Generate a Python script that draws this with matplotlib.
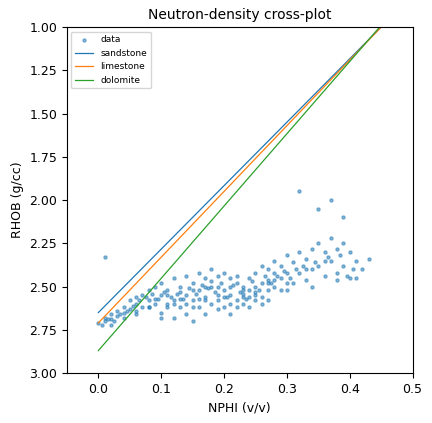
import matplotlib
matplotlib.use("Agg")
import matplotlib.pyplot as plt

# scatter points read off the cross-plot (approximate)
nphi = [0.00, 0.01, 0.01, 0.02, 0.02, 0.03, 0.03, 0.04, 0.04, 0.05, 0.05, 0.06, 0.06, 0.07, 0.07,
        0.08, 0.08, 0.09, 0.09, 0.10, 0.10, 0.10, 0.11, 0.11, 0.12, 0.12, 0.12, 0.13, 0.13, 0.14,
        0.14, 0.14, 0.15, 0.15, 0.15, 0.16, 0.16, 0.16, 0.17, 0.17, 0.17, 0.18, 0.18, 0.18, 0.19,
        0.19, 0.19, 0.20, 0.20, 0.20, 0.21, 0.21, 0.21, 0.22, 0.22, 0.22, 0.23, 0.23, 0.23, 0.24,
        0.24, 0.24, 0.25, 0.25, 0.25, 0.26, 0.26, 0.26, 0.27, 0.27, 0.27, 0.28, 0.28, 0.28, 0.29,
        0.29, 0.30, 0.30, 0.31, 0.31, 0.32, 0.32, 0.33, 0.33, 0.34, 0.34, 0.35, 0.35, 0.36, 0.36,
        0.37, 0.37, 0.38, 0.38, 0.39, 0.39, 0.40, 0.40, 0.41, 0.42, 0.01, 0.32, 0.37, 0.35, 0.39,
        0.09, 0.11, 0.13, 0.15, 0.17, 0.19, 0.21, 0.23, 0.25, 0.27, 0.06, 0.08, 0.12, 0.16, 0.20,
        0.24, 0.28, 0.30, 0.33, 0.36, 0.14, 0.18, 0.22, 0.26, 0.10, 0.30, 0.34, 0.38, 0.41, 0.43,
        0.005, 0.015, 0.025, 0.035, 0.045, 0.055, 0.065, 0.075, 0.085, 0.095, 0.105, 0.115, 0.125,
        0.135, 0.145, 0.155, 0.165, 0.175, 0.185, 0.195, 0.205, 0.215, 0.225, 0.235, 0.245, 0.255,
        0.265, 0.275, 0.285, 0.295, 0.305, 0.315, 0.325, 0.345, 0.365, 0.385, 0.395, 0.405,
        0.02, 0.04, 0.06, 0.08, 0.11, 0.13, 0.15, 0.17, 0.19, 0.21, 0.23, 0.25, 0.27, 0.29]
rhob = [2.71, 2.70, 2.68, 2.69, 2.66, 2.67, 2.64, 2.65, 2.62, 2.63, 2.58, 2.60, 2.56, 2.62, 2.55,
        2.58, 2.52, 2.60, 2.50, 2.55, 2.48, 2.65, 2.52, 2.62, 2.45, 2.58, 2.68, 2.50, 2.62, 2.44,
        2.55, 2.66, 2.48, 2.58, 2.70, 2.42, 2.52, 2.62, 2.45, 2.56, 2.66, 2.40, 2.50, 2.60, 2.44,
        2.55, 2.63, 2.42, 2.52, 2.62, 2.45, 2.55, 2.66, 2.48, 2.58, 2.62, 2.50, 2.56, 2.60, 2.45,
        2.52, 2.62, 2.42, 2.50, 2.58, 2.38, 2.48, 2.56, 2.40, 2.46, 2.52, 2.35, 2.42, 2.50, 2.38,
        2.45, 2.32, 2.42, 2.36, 2.48, 2.30, 2.42, 2.34, 2.46, 2.28, 2.40, 2.25, 2.38, 2.30, 2.44,
        2.22, 2.35, 2.28, 2.42, 2.25, 2.38, 2.30, 2.45, 2.35, 2.40, 2.33, 1.95, 2.00, 2.05, 2.10,
        2.57, 2.55, 2.53, 2.52, 2.50, 2.50, 2.50, 2.52, 2.53, 2.48, 2.66, 2.62, 2.60, 2.57, 2.56,
        2.56, 2.46, 2.48, 2.40, 2.35, 2.60, 2.47, 2.44, 2.60, 2.68, 2.52, 2.50, 2.46, 2.45, 2.34,
        2.72, 2.69, 2.70, 2.66, 2.64, 2.61, 2.58, 2.56, 2.54, 2.57, 2.53, 2.56, 2.54,
        2.57, 2.51, 2.54, 2.49, 2.51, 2.53, 2.48, 2.56, 2.49, 2.53, 2.57, 2.47, 2.52,
        2.44, 2.48, 2.44, 2.41, 2.45, 2.40, 2.38, 2.36, 2.33, 2.32, 2.44, 2.40,
        2.72, 2.68, 2.64, 2.62, 2.60, 2.57, 2.62, 2.58, 2.58, 2.60, 2.54, 2.55, 2.58, 2.52]

# matrix lines
line_nphi = [0.0, 0.45]
sandstone = [2.65, 1.00]
limestone = [2.71, 1.00]
dolomite = [2.87, 0.99]

fig, ax = plt.subplots(figsize=(4.32, 4.23), dpi=100)
ax.scatter(nphi, rhob, s=5, alpha=0.5, color="C0", label="data")
ax.plot(line_nphi, sandstone, lw=0.9, label="sandstone")
ax.plot(line_nphi, limestone, lw=0.9, label="limestone")
ax.plot(line_nphi, dolomite, lw=0.9, label="dolomite")
ax.set_xlim(-0.05, 0.5)
ax.set_ylim(3.0, 1.0)
ax.tick_params(labelsize=9)
ax.set_xlabel("NPHI (v/v)", fontsize=9)
ax.set_ylabel("RHOB (g/cc)", fontsize=9)
ax.set_title("Neutron-density cross-plot", fontsize=10)
ax.legend(loc="upper left", fontsize=6.5)
fig.subplots_adjust(left=0.155, right=0.955, top=0.936, bottom=0.118)
fig.savefig("out.png")
